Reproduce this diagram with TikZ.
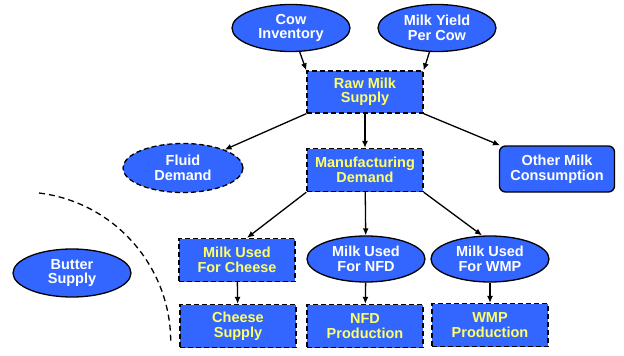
\documentclass[tikz,border=0pt]{standalone}
\usepackage{fontspec}
\setmainfont{Liberation Sans}
\usetikzlibrary{shapes.geometric,arrows.meta,calc}
\definecolor{boxblue}{RGB}{51,102,255}
\definecolor{txtyellow}{RGB}{255,255,102}
\tikzset{
  base/.style={fill=boxblue, draw=black, line width=1.3pt, align=center,
    font=\fontsize{14.5}{14.5}\selectfont\bfseries, inner sep=0pt},
  oval/.style={base, ellipse, minimum width=118pt, minimum height=47pt, text=white},
  dashoval/.style={oval, dash pattern=on 5pt off 3pt},
  dashbox/.style={base, rectangle, minimum width=116pt, minimum height=42pt,
    text=txtyellow, dash pattern=on 5pt off 3pt},
  roundbox/.style={base, rectangle, rounded corners=6pt, minimum width=115pt,
    minimum height=46pt, text=white},
  arr/.style={-{Latex[length=7pt,width=6pt]}, line width=1.3pt},
}
\begin{document}
\begin{tikzpicture}[x=1pt,y=-1pt]
\useasboundingbox (0,0) rectangle (624,356);
\node[oval] (cow) at (291,28) {Cow\\Inventory};
\node[oval] (yield) at (437,28) {Milk Yield\\Per Cow};
\node[dashbox] (raw) at (365,92) {Raw Milk\\Supply};
\node[dashoval, minimum width=120pt, minimum height=49pt] (fluid) at (183,168) {Fluid\\Demand};
\node[dashbox, minimum height=43pt] (manu) at (365,170) {Manufacturing\\Demand};
\node[roundbox] (other) at (557,169) {Other Milk\\Consumption};
\node[dashbox, minimum height=43pt] (cheeseused) at (237,260) {Milk Used\\For Cheese};
\node[oval, minimum height=46pt] (nfdused) at (366,259) {Milk Used\\For NFD};
\node[oval, minimum height=46pt] (wmpused) at (490,259) {Milk Used\\For WMP};
\node[dashbox, minimum height=43pt] (cheese) at (238,326) {Cheese\\Supply};
\node[dashbox, minimum height=43pt] (nfd) at (365,326) {NFD\\Production};
\node[dashbox, minimum height=43pt] (wmp) at (490,325) {WMP\\Production};
\node[oval, minimum height=48pt] (butter) at (72,273) {Butter\\Supply};

\draw[arr] (cow) -- (raw.north west);
\draw[arr] (yield) -- (raw.north east);
\draw[arr] (raw.south west) -- (fluid);
\draw[arr] (raw) -- (manu);
\draw[arr] (raw.south east) -- (other);
\draw[arr] (manu.south west) -- ([xshift=10pt]cheeseused.north);
\draw[arr] (manu) -- (nfdused);
\draw[arr] (manu.south east) -- ([xshift=-8pt]wmpused.north);
\draw[arr] (cheeseused) -- (cheese);
\draw[arr] (nfdused) -- (nfd);
\draw[arr] (wmpused) -- (wmp);

\coordinate (arcstart) at (39,193);
\draw[line width=1.3pt, dash pattern=on 6pt off 4pt] (arcstart) arc[start angle=-83, end angle=1, radius=150];
\end{tikzpicture}
\end{document}
